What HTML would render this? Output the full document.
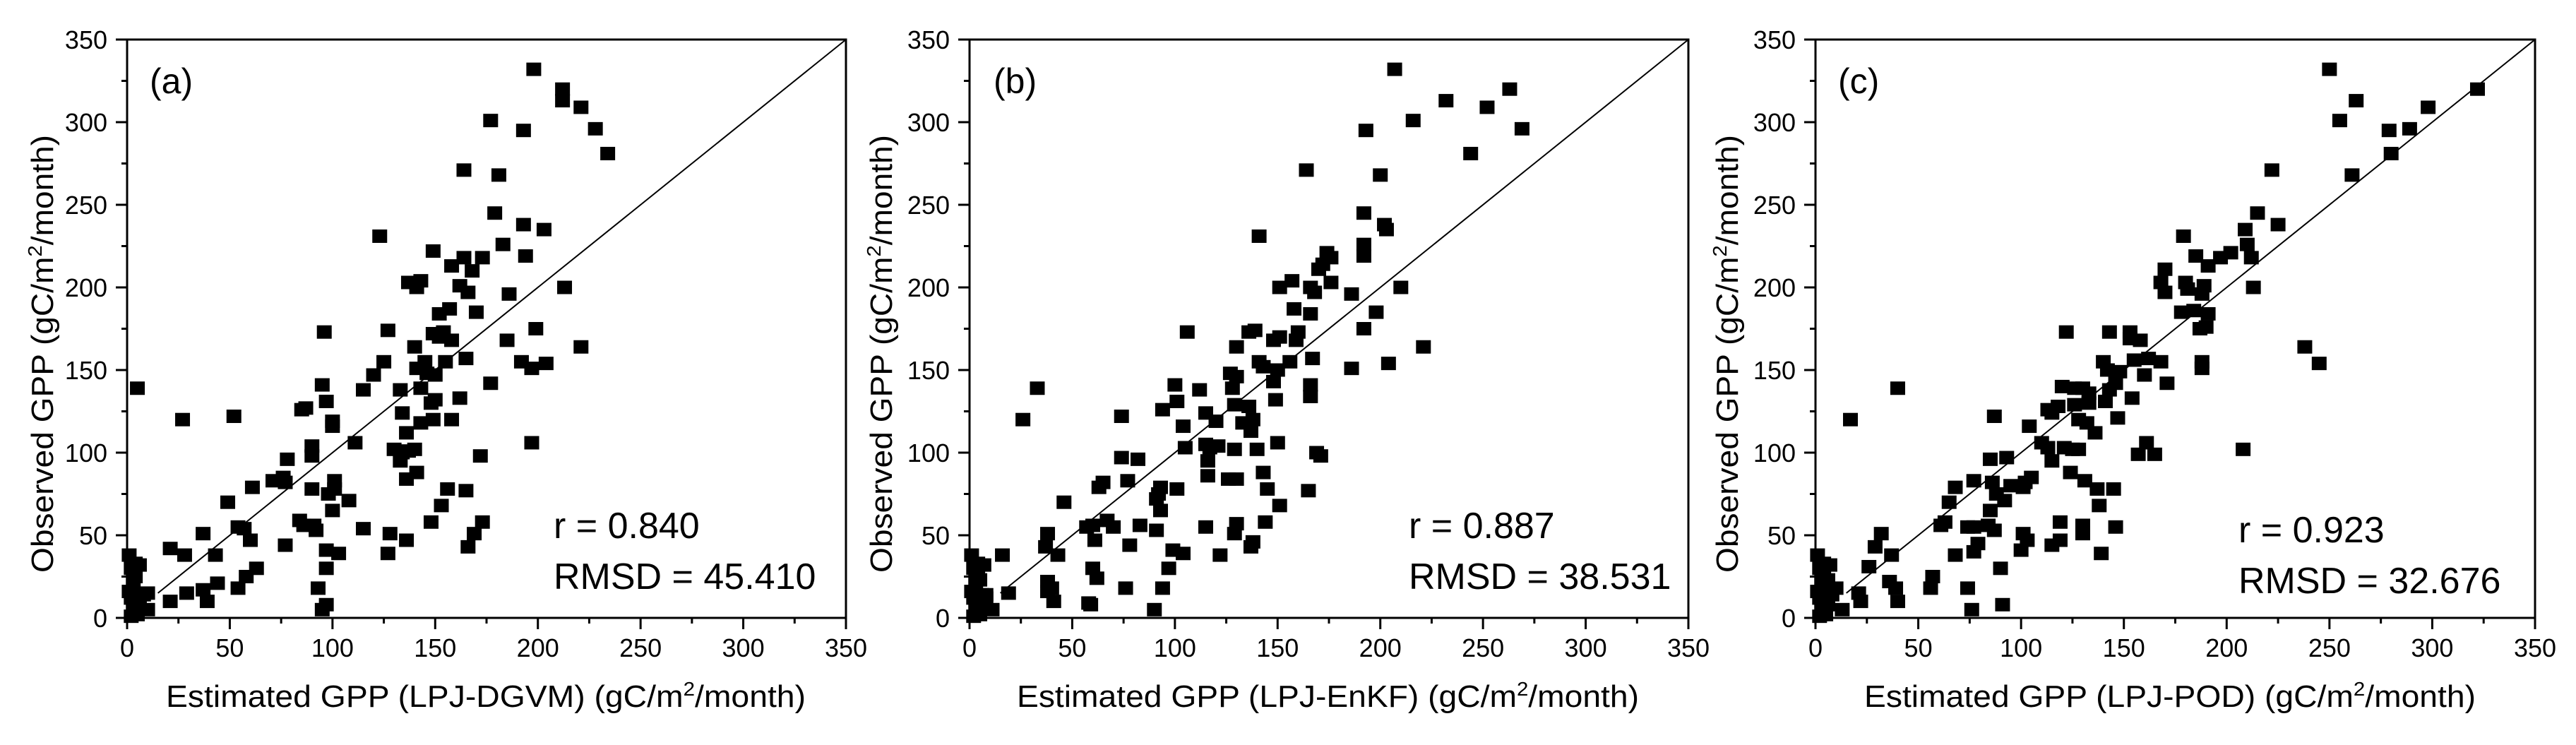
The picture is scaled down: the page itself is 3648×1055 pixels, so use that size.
<!DOCTYPE html>
<html><head><meta charset="utf-8"><style>
html,body{margin:0;padding:0;background:#fff}
svg{display:block}
text{font-family:"Liberation Sans",Arial,sans-serif;fill:#000}
</style></head><body>
<svg id="fig" width="3648" height="1055" viewBox="0 0 3648 1055" xmlns="http://www.w3.org/2000/svg"></svg>
<script>
const ticks=[0,50,100,150,200,250,300,350];
const tickLabels=["0","50","100","150","200","250","300","350"];
const origin=[[1,38],[2,30],[3,22],[4,25],[2,12],[3,5],[6,8],[1,16],[8,14],[4,33],[5,2],[2,1]];
const seriesA=[[198,332],[212,320],[212,313],[221,309],[228,296],[234,281],[177,301],[193,295],[164,271],[181,268],[179,245],[193,238],[203,235],[123,231],[183,226],[149,222],[164,218],[173,218],[194,219],[158,213],[168,210],[137,203],[143,204],[141,200],[162,201],[166,197],[186,196],[213,200],[152,184],[157,187],[170,185],[96,173],[127,174],[149,172],[154,173],[152,170],[158,168],[185,168],[199,175],[140,164],[221,164],[125,155],[120,147],[145,155],[155,155],[192,155],[204,154],[197,151],[141,151],[146,148],[150,147],[165,157],[177,142],[95,141],[115,138],[133,138],[143,139],[162,133],[148,130],[150,132],[97,131],[85,126],[87,127],[52,122],[27,120],[100,119],[100,116],[143,118],[149,120],[158,120],[134,124],[136,112],[111,106],[90,104],[90,98],[130,102],[134,100],[137,101],[140,102],[133,95],[197,106],[172,98],[78,96],[5,139],[71,83],[76,85],[77,82],[101,83],[136,84],[141,88],[61,79],[90,78],[98,75],[101,78],[156,78],[165,77],[49,70],[108,71],[100,65],[153,68],[84,59],[86,56],[91,56],[92,53],[54,55],[57,54],[115,54],[128,51],[148,58],[173,58],[169,51],[37,51],[60,47],[77,44],[136,47],[166,43],[21,42],[28,38],[43,38],[97,41],[103,39],[127,39],[63,30],[97,30],[6,32],[44,21],[58,25],[54,18],[37,17],[93,18],[29,15],[10,15],[21,10],[39,10],[95,5],[97,8],[10,5]];
const seriesB=[[207,332],[263,320],[232,313],[252,309],[216,301],[193,295],[269,296],[244,281],[164,271],[200,268],[192,245],[202,238],[203,235],[141,231],[192,226],[174,221],[176,218],[172,214],[170,211],[192,219],[151,200],[157,204],[166,200],[168,197],[176,203],[186,196],[210,200],[158,187],[166,184],[198,185],[106,173],[136,173],[139,174],[160,173],[148,168],[151,170],[159,168],[192,175],[130,164],[221,164],[141,155],[143,152],[156,155],[167,157],[204,154],[186,151],[127,148],[130,146],[150,150],[148,143],[100,141],[112,138],[128,139],[166,141],[166,134],[101,131],[149,132],[129,129],[94,126],[115,124],[136,128],[138,120],[133,118],[104,116],[120,119],[137,113],[26,120],[74,122],[33,139],[115,105],[117,103],[121,104],[105,103],[129,102],[140,102],[150,106],[74,97],[82,96],[116,95],[169,100],[171,98],[143,88],[116,86],[126,84],[130,84],[77,83],[63,79],[65,82],[93,79],[101,78],[145,78],[165,77],[92,75],[91,72],[93,65],[46,70],[151,68],[67,59],[70,55],[57,55],[60,56],[83,56],[91,53],[115,55],[129,51],[130,57],[144,58],[38,51],[61,47],[37,43],[78,44],[99,41],[104,39],[122,38],[137,43],[138,46],[43,38],[16,38],[97,30],[60,30],[62,24],[38,22],[40,18],[38,16],[41,10],[19,15],[76,18],[94,18],[58,9],[59,8],[90,5],[11,5],[7,32],[5,23],[6,14],[8,12]];
const seriesC=[[250,332],[322,320],[263,313],[298,309],[255,301],[279,295],[289,296],[280,281],[261,268],[222,271],[215,245],[209,235],[225,238],[179,231],[210,226],[202,221],[197,218],[185,219],[212,218],[191,213],[170,211],[168,203],[170,197],[180,203],[181,199],[189,201],[188,196],[213,200],[178,185],[184,186],[191,184],[122,173],[143,173],[153,173],[153,169],[158,168],[190,176],[187,175],[155,156],[162,157],[168,155],[140,155],[142,150],[148,149],[160,147],[188,155],[188,151],[238,164],[245,154],[146,142],[143,138],[171,142],[154,133],[120,140],[126,139],[130,139],[133,136],[133,130],[141,131],[126,129],[113,126],[115,124],[118,128],[87,122],[104,116],[128,120],[132,118],[136,112],[147,121],[110,106],[113,103],[121,103],[125,102],[128,102],[161,106],[157,99],[165,99],[208,102],[85,96],[93,97],[115,95],[17,120],[40,139],[68,79],[77,83],[86,82],[95,80],[101,79],[102,82],[105,85],[124,88],[131,83],[137,78],[145,78],[65,70],[88,75],[92,71],[85,65],[138,68],[63,58],[61,56],[74,55],[77,55],[84,56],[87,53],[101,51],[103,47],[119,58],[130,56],[130,51],[146,55],[32,51],[29,43],[37,38],[68,38],[79,45],[77,40],[100,41],[115,44],[119,47],[139,39],[26,31],[90,30],[36,22],[39,18],[40,10],[57,25],[56,18],[74,18],[21,15],[22,10],[76,5],[91,8],[7,32],[6,23],[10,18],[13,5]];
const panels=[
 {id:"a",x0:180,x1:1198,data:seriesA,label:"(a)",r:"r = 0.840",rmsd:"RMSD = 45.410",xt:"Estimated GPP (LPJ-DGVM) (gC/m",yx:59,annX:784,annY:[744,816],xtL:235,xtR:1141},
 {id:"b",x0:1373,x1:2391,data:seriesB,label:"(b)",r:"r = 0.887",rmsd:"RMSD = 38.531",xt:"Estimated GPP (LPJ-EnKF) (gC/m",yx:1247,annX:1995,annY:[744,816],xtL:1440,xtR:2321},
 {id:"c",x0:2571,x1:3590,data:seriesC,label:"(c)",r:"r = 0.923",rmsd:"RMSD = 32.676",xt:"Estimated GPP (LPJ-POD) (gC/m",yx:2445,annX:3170,annY:[750,822],xtL:2640,xtR:3506}
];
const NS="http://www.w3.org/2000/svg";
const svg=document.getElementById('fig');
const Y0=875,Y1=56;
function mk(tag,attrs,parent){const e=document.createElementNS(NS,tag);for(const k in attrs)e.setAttribute(k,attrs[k]);(parent||svg).appendChild(e);return e;}
panels.forEach(p=>{
  const g=mk('g',{});
  
  
  const sx=v=>p.x0+(v/350)*(p.x1-p.x0);
  const sy=v=>Y0-(v/350)*(Y0-Y1);
  // diagonal
  const d=mk('line',{x1:sx(15),y1:sy(15),x2:sx(350),y2:sy(350),stroke:'#000','stroke-width':2},g);
  
  
  // points
  origin.concat(p.data).forEach(pt=>{
    const r=mk('rect',{x:sx(pt[0])-10.5,y:sy(pt[1])-9.5,width:21,height:19,fill:'#000'},g);
    
    
  });
  // frame
  const f=mk('rect',{x:p.x0,y:Y1,width:p.x1-p.x0,height:Y0-Y1,fill:'none',stroke:'#000','stroke-width':3},g);
  
  
  // ticks
  for(let v=0;v<=350;v+=25){
    const major=v%50===0, L=major?16:8;
    mk('line',{x1:sx(v),y1:Y0,x2:sx(v),y2:Y0+L,stroke:'#000','stroke-width':3},g);
    mk('line',{x1:p.x0,y1:sy(v),x2:p.x0-L,y2:sy(v),stroke:'#000','stroke-width':3},g);
  }
  ticks.forEach((v,i)=>{
    const tx=mk('text',{x:sx(v),y:930,'font-size':36,'text-anchor':'middle'},g);
    tx.textContent=tickLabels[i];
    
    
    const ty=mk('text',{x:p.x0-28,y:sy(v)+13,'font-size':36,'text-anchor':'end'},g);
    ty.textContent=tickLabels[i];
    
    
  });
  // x title
  const xt=mk('text',{x:p.xtL,y:1001,'font-size':44,textLength:p.xtR-p.xtL,lengthAdjust:'spacingAndGlyphs'},g);
  xt.innerHTML=p.xt+'<tspan font-size="28" dy="-16">2</tspan><tspan dy="16">/month)</tspan>';
  
  
  // y title
  const yt=mk('text',{x:0,y:0,'font-size':44,'text-anchor':'middle',transform:`translate(${p.yx+16},501) rotate(-90)`,textLength:620,lengthAdjust:'spacingAndGlyphs'},g);
  yt.innerHTML='Observed GPP (gC/m<tspan font-size="28" dy="-16">2</tspan><tspan dy="16">/month)</tspan>';
  
  
  // labels
  const pl=mk('text',{x:sx(0)+(p.id==='a'?32:p.id==='b'?34:32),y:132,'font-size':50},g);
  pl.textContent=p.label;
  
  
  const rt=mk('text',{x:p.annX,y:p.annY[0]+18,'font-size':52},g);
  rt.textContent=p.r;
  
  
  const mt=mk('text',{x:p.annX,y:p.annY[1]+18,'font-size':52},g);
  mt.textContent=p.rmsd;
  
  
});
</script>
</body></html>
